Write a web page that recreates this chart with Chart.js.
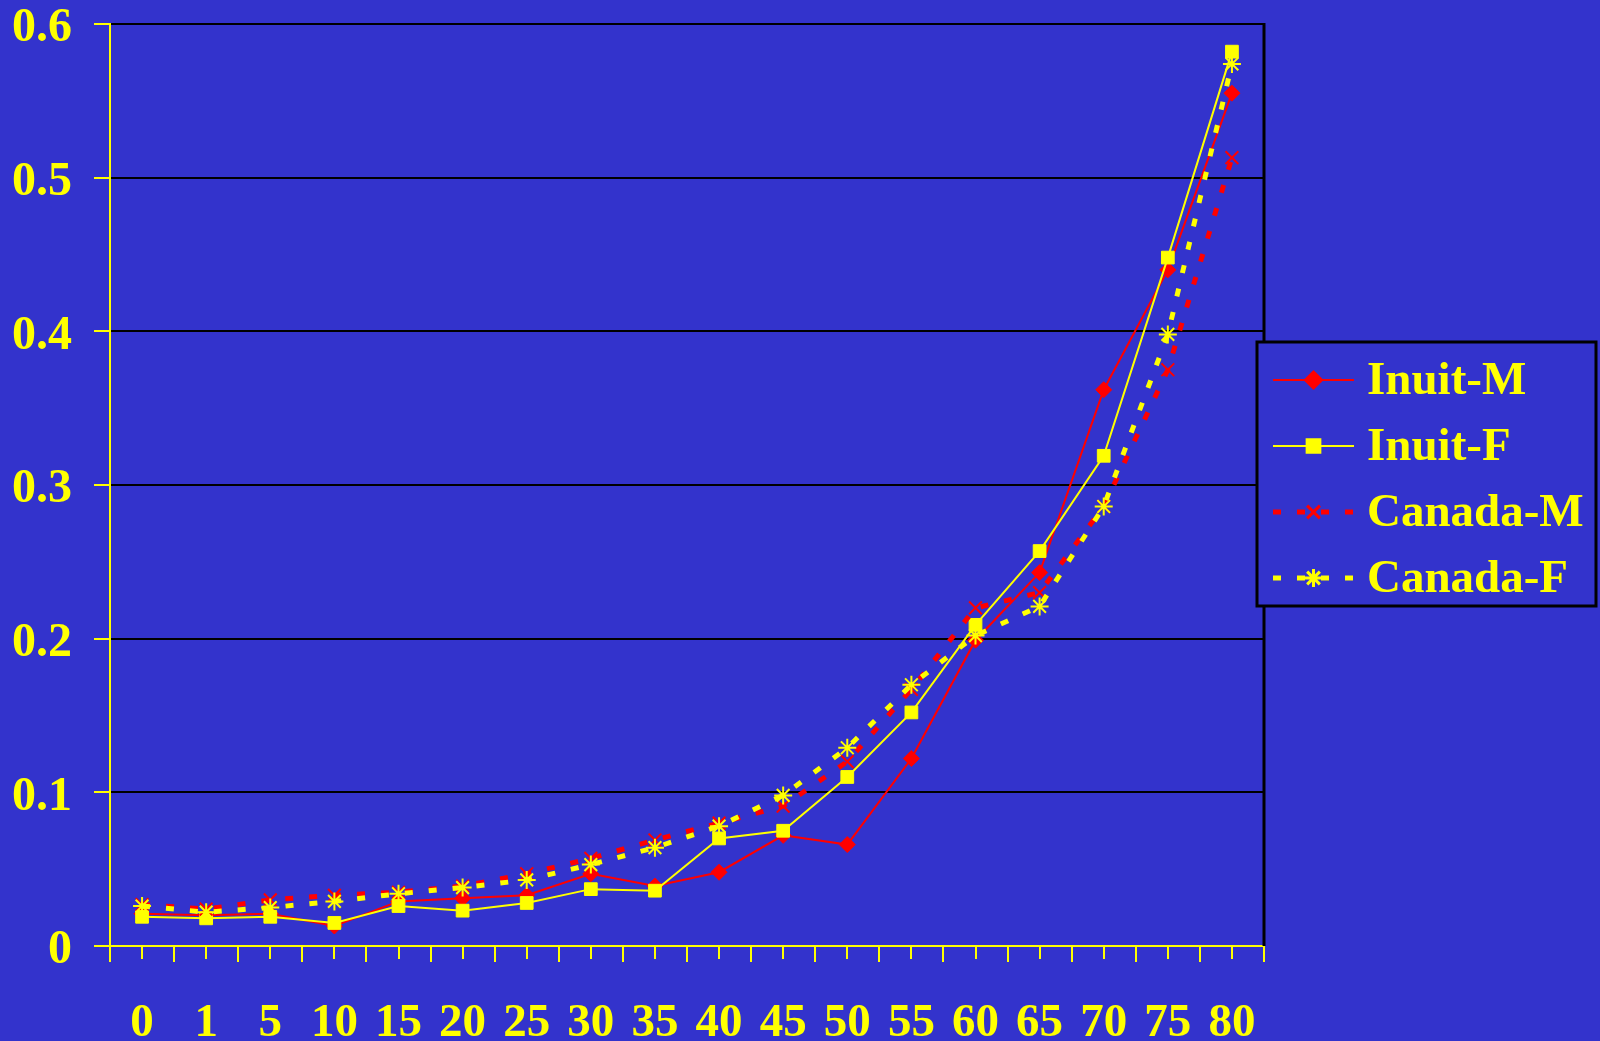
<!DOCTYPE html>
<html>
<head>
<meta charset="utf-8">
<title>Inuit and Canada mortality by age</title>
<script src="https://cdn.jsdelivr.net/npm/chart.js@4"></script>
<style>
  html, body { margin: 0; padding: 0; background: #3333CC; }
  canvas { display: block; }
</style>
</head>
<body>
<canvas id="chart" width="1600" height="1041"></canvas>
<script>
// Age groups along the horizontal axis
const ageGroups = ['0', '1', '5', '10', '15', '20', '25', '30', '35', '40', '45', '50', '55', '60', '65', '70', '75', '80'];

// Series values, one per age group
const inuitM  = [0.021, 0.020, 0.021, 0.013, 0.029, 0.031, 0.033, 0.047, 0.039, 0.048, 0.072, 0.066, 0.122, 0.199, 0.243, 0.362, 0.440, 0.555];
const inuitF  = [0.019, 0.018, 0.019, 0.015, 0.026, 0.023, 0.028, 0.037, 0.036, 0.070, 0.075, 0.110, 0.152, 0.209, 0.257, 0.319, 0.448, 0.582];
const canadaM = [0.027, 0.024, 0.030, 0.033, 0.035, 0.039, 0.047, 0.057, 0.069, 0.080, 0.091, 0.120, 0.167, 0.220, 0.230, 0.286, 0.375, 0.513];
const canadaF = [0.026, 0.022, 0.025, 0.029, 0.034, 0.038, 0.043, 0.053, 0.064, 0.078, 0.098, 0.129, 0.170, 0.202, 0.221, 0.286, 0.398, 0.574];

const seriesNames = ['Inuit-M', 'Inuit-F', 'Canada-M', 'Canada-F'];

const BG = '#3333CC';
const RED = '#FF0000';
const YELLOW = '#FFFF00';
const FONT = '"Liberation Serif", "Times New Roman", serif';

// Extra axis decorations: half-step ticks under each category and the right frame edge
const frameDecor = {
  id: 'frameDecor',
  afterDraw(chart) {
    const { ctx, chartArea } = chart;
    const x = chart.scales.x;
    ctx.save();
    ctx.strokeStyle = YELLOW;
    ctx.lineWidth = 2;
    for (let i = 0; i < ageGroups.length; i++) {
      const px = Math.round(x.getPixelForValue(i));
      ctx.beginPath();
      ctx.moveTo(px, chartArea.bottom);
      ctx.lineTo(px, chartArea.bottom + 13);
      ctx.stroke();
    }
    ctx.strokeStyle = '#000000';
    ctx.lineWidth = 3;
    ctx.beginPath();
    ctx.moveTo(chartArea.right, chartArea.top - 1);
    ctx.lineTo(chartArea.right, chartArea.bottom);
    ctx.stroke();
    ctx.restore();
  }
};

// Boxed legend to the right of the plot
const boxedLegend = {
  id: 'boxedLegend',
  afterDraw(chart) {
    const { ctx } = chart;
    const box = { x: 1257, y: 342, w: 339, h: 264 };
    ctx.save();
    ctx.fillStyle = BG;
    ctx.fillRect(box.x, box.y, box.w, box.h);
    ctx.strokeStyle = '#000000';
    ctx.lineWidth = 3;
    ctx.strokeRect(box.x, box.y, box.w, box.h);

    const x0 = 1273, x1 = 1354, textX = 1367;
    chart.data.datasets.forEach((ds, i) => {
      const y = 380 + i * 66;
      ctx.save();
      ctx.strokeStyle = ds.borderColor;
      ctx.lineWidth = ds.borderWidth;
      ctx.setLineDash(ds.borderDash || []);
      ctx.beginPath();
      ctx.moveTo(x0, y);
      ctx.lineTo(x1, y);
      ctx.stroke();
      ctx.restore();

      ctx.save();
      ctx.fillStyle = ds.pointBackgroundColor;
      ctx.strokeStyle = ds.pointBorderColor;
      Chart.helpers.drawPoint(ctx, {
        pointStyle: ds.pointStyle,
        radius: ds.pointRadius,
        rotation: 0,
        borderWidth: ds.pointBorderWidth
      }, (x0 + x1) / 2, y);
      ctx.restore();

      ctx.fillStyle = YELLOW;
      ctx.font = 'bold 47px ' + FONT;
      ctx.textAlign = 'left';
      ctx.textBaseline = 'middle';
      ctx.fillText(ds.label, textX, y + 2);
    });
    ctx.restore();
  }
};

new Chart(document.getElementById('chart'), {
  type: 'line',
  data: {
    labels: ageGroups,
    datasets: [
      {
        label: seriesNames[0], data: inuitM, order: 4,
        borderColor: RED, borderWidth: 2,
        pointStyle: 'rectRot', pointRadius: 8,
        pointBackgroundColor: RED, pointBorderColor: RED, pointBorderWidth: 1
      },
      {
        label: seriesNames[1], data: inuitF, order: 3,
        borderColor: YELLOW, borderWidth: 2,
        pointStyle: 'rect', pointRadius: 9,
        pointBackgroundColor: YELLOW, pointBorderColor: YELLOW, pointBorderWidth: 1
      },
      {
        label: seriesNames[2], data: canadaM, order: 2,
        borderColor: RED, borderWidth: 5, borderDash: [8, 16],
        pointStyle: 'crossRot', pointRadius: 9,
        pointBackgroundColor: RED, pointBorderColor: RED, pointBorderWidth: 2
      },
      {
        label: seriesNames[3], data: canadaF, order: 1,
        borderColor: YELLOW, borderWidth: 5, borderDash: [8, 16],
        pointStyle: 'star', pointRadius: 9,
        pointBackgroundColor: YELLOW, pointBorderColor: YELLOW, pointBorderWidth: 2
      }
    ]
  },
  options: {
    responsive: false,
    animation: false,
    layout: { padding: { top: 0, right: 336, bottom: 0, left: 0 } },
    plugins: {
      legend: { display: false },
      tooltip: { enabled: false }
    },
    elements: { line: { tension: 0 } },
    scales: {
      x: {
        type: 'category',
        offset: true,
        afterFit(scale) { scale.height = 95; },
        grid: {
          offset: true,
          drawOnChartArea: true,
          color: 'rgba(0,0,0,0)',
          tickColor: YELLOW,
          tickLength: 16,
          lineWidth: 2
        },
        border: { color: YELLOW, width: 2 },
        ticks: {
          color: YELLOW,
          autoSkip: false,
          maxRotation: 0,
          padding: 38,
          font: { family: FONT, size: 47, weight: 'bold', lineHeight: 1 }
        }
      },
      y: {
        min: 0,
        max: 0.6,
        afterFit(scale) {
          scale.width = 110;
          scale.paddingTop = 24;
          scale.paddingBottom = 0;
        },
        grid: {
          color: (c) => (c.tick && c.tick.value === 0 ? 'rgba(0,0,0,0)' : '#000000'),
          tickColor: YELLOW,
          tickLength: 16,
          lineWidth: 2
        },
        border: { color: YELLOW, width: 2 },
        ticks: {
          stepSize: 0.1,
          color: YELLOW,
          padding: 22,
          labelOffset: 5,
          font: { family: FONT, size: 48, weight: 'bold', lineHeight: 1 }
        }
      }
    }
  },
  plugins: [frameDecor, boxedLegend]
});
</script>
</body>
</html>
